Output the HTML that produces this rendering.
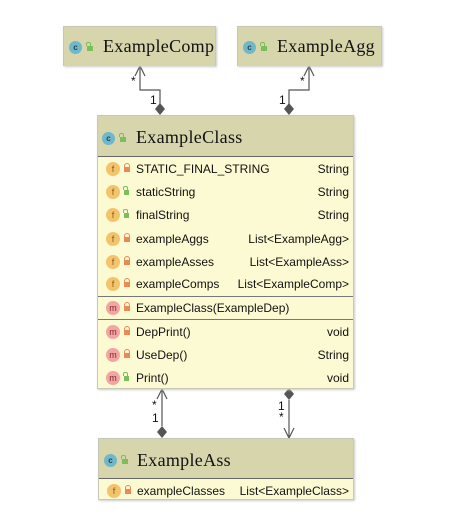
<!DOCTYPE html>
<html><head><meta charset="utf-8"><style>
*{margin:0;padding:0;box-sizing:border-box}
body{width:466px;height:516px;background:#fff;position:relative;overflow:hidden;font-family:"Liberation Sans","DejaVu Sans",sans-serif}
.box{position:absolute;background:#fcfad2;border:1px solid #c8c8b8;box-shadow:1px 1px 2px #ccc}
.hdr{position:absolute;left:0;right:0;top:0;background:#d6d5ac;border-bottom:1px solid #666}
.title{position:absolute;font-family:"Liberation Serif",serif;font-size:18px;letter-spacing:0.3px;color:#111}
.ci{position:absolute;width:13px;height:13px;border-radius:50%;background:#6fb7c9;color:#245;font-size:8px;line-height:13px;text-align:center;font-weight:bold}
.lk{position:absolute;width:6px;height:5px;background:#7cbf5a}
.lk:before{content:"";position:absolute;left:-1px;top:-4px;width:3px;height:3px;border:1px solid #7cbf5a;border-bottom:none;border-radius:2px 2px 0 0}
.row{position:absolute;left:0;right:0;height:23px;font-size:12px;color:#111}
.row .n{position:absolute;left:38px;top:4px}
.row .t{position:absolute;right:4px;top:4px}
.fi{position:absolute;left:8px;top:4px;width:14px;height:14px;border-radius:50%;background:#f3c46d;color:#8a5a10;font-size:9px;line-height:14px;text-align:center}
.mi{position:absolute;left:8px;top:4px;width:14px;height:14px;border-radius:50%;background:#f5a4a4;color:#7a2a2a;font-size:9px;line-height:14px;text-align:center}
.pl{position:absolute;left:26px;top:9px;width:6px;height:5px;background:#e98a55}
.pl:before{content:"";position:absolute;left:0;top:-4px;width:4px;height:4px;border:1px solid #e98a55;border-bottom:none;border-radius:3px 3px 0 0}
.pu{position:absolute;left:26px;top:9px;width:5px;height:5px;background:#7cbf5a}
.pu:before{content:"";position:absolute;left:-1px;top:-4px;width:3px;height:3px;border:1px solid #7cbf5a;border-bottom:none;border-radius:2px 2px 0 0}
.sep{position:absolute;left:0;right:0;height:1px;background:#777}
.lbl{position:absolute;font-size:12px;color:#111}
</style></head><body>

<svg width="466" height="516" style="position:absolute;left:0;top:0" >
<g stroke="#555" fill="none" stroke-width="1.2">
<polyline points="140,66 140,90 160,90 160,104"/>
<polyline points="135,76 140,66 145,76"/>
<polyline points="309,66 309,90 289,90 289,104"/>
<polyline points="304,76 309,66 314,76"/>
<line x1="162" y1="389" x2="162" y2="426"/>
<polyline points="157,399 162,389 167,399"/>
<line x1="289" y1="400" x2="289" y2="438"/>
<polyline points="284,428 289,438 294,428"/>
</g>
<g fill="#555">
<polygon points="160,103 165,109 160,115 155,109"/>
<polygon points="289,103 294,109 289,115 284,109"/>
<polygon points="162,426 167,432 162,438 157,432"/>
<polygon points="289,388 294,394 289,400 284,394"/>
</g>
</svg>
<div class="lbl" style="left:131px;top:74px">*</div>
<div class="lbl" style="left:150px;top:93px">1</div>
<div class="lbl" style="left:300px;top:74px">*</div>
<div class="lbl" style="left:279px;top:93px">1</div>
<div class="lbl" style="left:152px;top:398px">*</div>
<div class="lbl" style="left:152px;top:411px">1</div>
<div class="lbl" style="left:278px;top:399px">1</div>
<div class="lbl" style="left:279px;top:410px">*</div>

<div class="box" style="left:63px;top:26px;width:153px;height:40px">
 <div class="hdr" style="height:39px;border-bottom:none"></div>
 <div class="ci" style="left:5px;top:14px">c</div><div class="lk" style="left:23px;top:19px"></div>
 <div class="title" style="left:39px;top:9px">ExampleComp</div>
</div>
<div class="box" style="left:237px;top:26px;width:145px;height:40px">
 <div class="hdr" style="height:39px;border-bottom:none"></div>
 <div class="ci" style="left:5px;top:14px">c</div><div class="lk" style="left:23px;top:19px"></div>
 <div class="title" style="left:39px;top:9px">ExampleAgg</div>
</div>

<div class="box" style="left:97px;top:115px;width:257px;height:274px">
 <div class="hdr" style="height:41px"></div>
 <div class="ci" style="left:4px;top:16px">c</div><div class="lk" style="left:22px;top:21px"></div>
 <div class="title" style="left:38px;top:11px">ExampleClass</div>
 <div class="row" style="top:42px"><div class="fi">f</div><div class="pl"></div><span class="n">STATIC_FINAL_STRING</span><span class="t">String</span></div>
 <div class="row" style="top:65px"><div class="fi">f</div><div class="pu"></div><span class="n">staticString</span><span class="t">String</span></div>
 <div class="row" style="top:88px"><div class="fi">f</div><div class="pu"></div><span class="n">finalString</span><span class="t">String</span></div>
 <div class="row" style="top:112px"><div class="fi">f</div><div class="pl"></div><span class="n">exampleAggs</span><span class="t">List&lt;ExampleAgg&gt;</span></div>
 <div class="row" style="top:135px"><div class="fi">f</div><div class="pl"></div><span class="n">exampleAsses</span><span class="t">List&lt;ExampleAss&gt;</span></div>
 <div class="row" style="top:157px"><div class="fi">f</div><div class="pl"></div><span class="n">exampleComps</span><span class="t">List&lt;ExampleComp&gt;</span></div>
 <div class="sep" style="top:180px"></div>
 <div class="row" style="top:181px"><div class="mi">m</div><div class="pl"></div><span class="n">ExampleClass(ExampleDep)</span></div>
 <div class="sep" style="top:203px"></div>
 <div class="row" style="top:205px"><div class="mi">m</div><div class="pl"></div><span class="n">DepPrint()</span><span class="t">void</span></div>
 <div class="row" style="top:228px"><div class="mi">m</div><div class="pl"></div><span class="n">UseDep()</span><span class="t">String</span></div>
 <div class="row" style="top:251px"><div class="mi">m</div><div class="pu"></div><span class="n">Print()</span><span class="t">void</span></div>
</div>

<div class="box" style="left:98px;top:438px;width:256px;height:62px">
 <div class="hdr" style="height:40px"></div>
 <div class="ci" style="left:5px;top:15px">c</div><div class="lk" style="left:23px;top:20px"></div>
 <div class="title" style="left:38px;top:11px">ExampleAss</div>
 <div class="row" style="top:41px"><div class="fi">f</div><div class="pl"></div><span class="n">exampleClasses</span><span class="t">List&lt;ExampleClass&gt;</span></div>
</div>
</body></html>
